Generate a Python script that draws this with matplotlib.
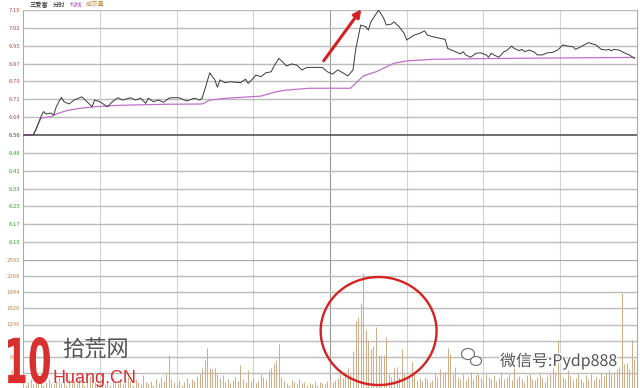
import matplotlib
matplotlib.use("Agg")
import matplotlib.pyplot as plt
from matplotlib.patches import Ellipse, PathPatch
from matplotlib.textpath import TextPath
from matplotlib.font_manager import FontProperties
from matplotlib.transforms import Affine2D
import matplotlib.patheffects as pe

plt.rcParams['font.family'] = ['Noto Sans CJK SC', 'DejaVu Sans']

# ---------------- data ----------------
prev_close = 6.56
price_limit = 7.10

price_points = [
    (0, 6.560), (4, 6.560), (5, 6.582), (7, 6.639), (8, 6.661), (9, 6.651), (11, 6.655), (12, 6.646), (13, 6.682), (15, 6.723),
    (16, 6.704), (18, 6.694), (20, 6.711), (23, 6.725), (25, 6.704), (27, 6.682), (28, 6.711), (30, 6.704), (33, 6.682), (35, 6.704),
    (37, 6.721), (39, 6.711), (42, 6.721), (44, 6.711), (46, 6.719), (48, 6.697), (49, 6.719), (51, 6.704), (53, 6.711), (55, 6.701),
    (57, 6.719), (58, 6.721), (61, 6.721), (64, 6.707), (67, 6.719), (69, 6.711), (70, 6.719), (71, 6.754), (73, 6.829), (74, 6.812),
    (75, 6.798), (76, 6.766), (77, 6.798), (79, 6.786), (81, 6.790), (85, 6.786), (87, 6.801), (88, 6.783), (90, 6.805), (91, 6.819),
    (93, 6.812), (95, 6.829), (97, 6.833), (98, 6.855), (100, 6.891), (102, 6.870), (103, 6.858), (105, 6.867), (107, 6.862), (109, 6.841),
    (111, 6.852), (112, 6.852), (117, 6.852), (119, 6.833), (121, 6.823), (123, 6.841), (125, 6.829), (127, 6.815), (129, 6.841), (130, 6.927),
    (132, 7.035), (134, 7.028), (135, 7.013), (136, 7.049), (139, 7.100), (141, 7.064), (142, 7.035), (144, 7.039), (145, 7.049), (147, 7.028),
    (149, 6.999), (150, 6.970), (151, 6.978), (153, 6.992), (155, 6.999), (157, 7.010), (158, 6.992), (160, 6.985), (163, 6.978), (165, 6.973),
    (166, 6.934), (169, 6.920), (171, 6.910), (172, 6.920), (173, 6.906), (175, 6.896), (177, 6.913), (179, 6.915), (181, 6.906), (182, 6.896),
    (183, 6.913), (184, 6.906), (186, 6.896), (188, 6.920), (189, 6.924), (191, 6.944), (192, 6.934), (194, 6.924), (195, 6.930), (196, 6.920),
    (198, 6.927), (200, 6.917), (201, 6.906), (203, 6.906), (205, 6.915), (207, 6.917), (209, 6.927), (211, 6.949), (213, 6.944), (215, 6.941),
    (216, 6.930), (218, 6.941), (220, 6.953), (221, 6.959), (223, 6.952), (224, 6.949), (226, 6.930), (228, 6.927), (229, 6.930), (230, 6.924),
    (231, 6.930), (233, 6.927), (235, 6.915), (237, 6.906), (239, 6.891),
]

avg_points = [
    (0, 6.560), (4, 6.560), (7, 6.633), (11, 6.639), (13, 6.651), (17, 6.665), (22, 6.675), (28, 6.682), (35, 6.687), (44, 6.690),
    (57, 6.693), (70, 6.694), (73, 6.711), (80, 6.719), (93, 6.728), (99, 6.747), (103, 6.754), (112, 6.762), (128, 6.762), (130, 6.783),
    (133, 6.815), (138, 6.833), (145, 6.870), (150, 6.880), (160, 6.887), (179, 6.890), (210, 6.893), (239, 6.895),
]

volume = [
    180, 90, 140, 200, 110, 160, 230, 120, 90, 150,
    210, 130, 100, 170, 240, 120, 150, 90, 200, 130,
    160, 110, 220, 140, 90, 180, 260, 120, 150, 100,
    140, 200, 110, 170, 90, 230, 150, 120, 180, 100,
    130, 250, 160, 90, 200, 140, 110, 280, 150, 120,
    170, 90, 210, 130, 240, 160, 300, 680, 200, 140,
    110, 180, 90, 150, 230, 120, 200, 160, 260, 300,
    416, 583, 817, 420, 400, 416, 300, 220, 280, 150,
    200, 130, 180, 250, 160, 480, 200, 140, 380, 170,
    220, 130, 160, 300, 250, 200, 380, 420, 510, 583,
    898, 250, 160, 120, 90, 180, 140, 100, 200, 120,
    150, 90, 130, 110, 170, 80, 140, 120, 100, 160,
    200, 140, 180, 230, 300, 220, 350, 420, 300, 770,
    1372, 1452, 1722, 2336, 1185, 984, 800, 864, 1251, 683,
    683, 683, 1039, 300, 250, 416, 442, 250, 797, 300,
    200, 250, 548, 300, 180, 220, 160, 250, 200, 150,
    180, 300, 250, 400, 300, 350, 817, 703, 300, 448,
    250, 200, 300, 180, 250, 350, 200, 280, 300, 220,
    180, 300, 250, 200, 280, 160, 220, 350, 200, 250,
    300, 180, 520, 220, 260, 200, 150, 280, 300, 200,
    180, 250, 300, 220, 150, 260, 300, 420, 350, 984,
    300, 250, 200, 380, 260, 180, 220, 300, 200, 150,
    280, 200, 300, 180, 250, 200, 320, 260, 300, 380,
    300, 350, 400, 450, 1922, 500, 522, 400, 984, 600,
    500,
]
volume_max = 2592
volume_ticks = [2592, 2268, 1944, 1620, 1296, 972, 648, 324]

title_parts = [("三爱富", "#222222"), ("分时", "#222222"), ("均线", "#b040c0"), ("成交量", "#c08a40")]

# ---------------- layout ----------------
W, H = 640, 388
fig = plt.figure(figsize=(W / 100, H / 100), dpi=100)
fig.patch.set_facecolor("white")

x0, x1 = 23, 637
ax_p = fig.add_axes([x0 / W, 1 - 260 / H, (x1 - x0) / W, 250 / H])
ax_v = fig.add_axes([x0 / W, 1 - 389 / H, (x1 - x0) / W, 129 / H])

step = (price_limit - prev_close) / 7
price_ticks = [prev_close + k * step for k in range(-7, 8)]

for ax in (ax_p, ax_v):
    ax.set_xlim(0, 240)
    ax.set_facecolor("none")
    for s in ("top", "bottom"):
        ax.spines[s].set_visible(False)
    for s in ("left", "right"):
        ax.spines[s].set_color("#aaaaaa")
        ax.spines[s].set_linewidth(0.8)
    ax.set_xticks([])
    ax.tick_params(axis="y", length=0, pad=2, labelsize=4.3)
    for m in range(30, 240, 30):
        ax.axvline(m, color="#999999" if m == 120 else "#d2d2d2", lw=0.8, zorder=1)

ax_p.set_ylim(prev_close - 7 * step, price_limit)
ax_v.set_ylim(0, volume_max)

# price grid
for t in price_ticks:
    if abs(t - prev_close) < 1e-9:
        ax_p.axhline(t, color="#555555", lw=1.2, zorder=2)
    elif t > prev_close - 7 * step + 1e-9:
        ax_p.axhline(t, color="#bcbcbc", lw=1.0, zorder=1)
ax_p.set_yticks(price_ticks[1:])
ax_p.set_yticklabels(["%.2f" % t for t in price_ticks[1:]])
for lab, t in zip(ax_p.get_yticklabels(), price_ticks[1:]):
    if abs(t - prev_close) < 1e-9:
        lab.set_color("#444444")
    elif t > prev_close:
        lab.set_color("#b24a4a")
    else:
        lab.set_color("#3a9a3a")

# volume grid
ax_v.axhline(volume_max, color="#a8a8a8", lw=1.6, zorder=2)
for t in volume_ticks[1:]:
    ax_v.axhline(t, color="#bcbcbc", lw=1.0, zorder=1)
ax_v.set_yticks(volume_ticks)
ax_v.set_yticklabels([str(v) for v in volume_ticks])
for lab in ax_v.get_yticklabels():
    lab.set_color("#c08a50")

# series
pm = [p[0] for p in price_points]
pv = [p[1] for p in price_points]
am = [p[0] for p in avg_points]
av = [p[1] for p in avg_points]
ax_p.plot(am, av, color="#c070cc", lw=0.9, zorder=3)
ax_p.plot(pm, pv, color="#3a3a3a", lw=0.7, zorder=4)

ax_v.vlines(range(len(volume)), 0, volume, color="#cdb08a", lw=0.75, zorder=3)

# annotations
ax_p.annotate("", xy=(132.9, 7.113), xytext=(116.9, 6.871),
              arrowprops=dict(arrowstyle="-|>", color="#d42222", lw=2.2, mutation_scale=11),
              annotation_clip=False, zorder=6)
ax_v.add_patch(Ellipse((139, 1165), 45.3, 2170, fill=False, edgecolor="#d42222",
                       lw=1.7, clip_on=False, zorder=6))

# title
xs = 30
for txt, col in title_parts:
    fig.text(xs / W, 1 - 5 / H, txt, fontsize=4.5, color=col, va="center", ha="left")
    xs += len(txt) * 6.3 + 4

# watermark: logo
tp = TextPath((0, 0), "10", size=1, prop=FontProperties(family="DejaVu Sans", weight="bold"))
ext = tp.get_extents()
sx = 42 / ext.width
sy = 47 / ext.height
tr = Affine2D().translate(-ext.x0, -ext.y0).scale(sx / W, sy / H).translate(8 / W, 4 / H) + fig.transFigure
fig.patches.append(PathPatch(tp, transform=tr, facecolor="#d8302f", edgecolor="none", zorder=10))
fig.text(62 / W, 1 - 357 / H, "拾荒网", fontsize=16, color="#555555", ha="left", va="baseline", zorder=10)
fig.text(52 / W, 1 - 383 / H, "Huang.CN", fontsize=13, color="#d8302f", ha="left", va="baseline",
         family=["Liberation Sans", "DejaVu Sans"], zorder=10)

# watermark: wechat
halo = [pe.withStroke(linewidth=2, foreground="white")]
fig.text(500 / W, 1 - 366 / H, "微信号:Pydp888", fontsize=11.5, color="#555555", ha="left",
         va="baseline", path_effects=halo, zorder=10)
fig.patches.append(Ellipse((468 / W, 1 - 354 / H), 13 / W, 11 / H, transform=fig.transFigure,
                           fill=True, facecolor="white", edgecolor="#777777", lw=0.9, zorder=10))
fig.patches.append(Ellipse((476 / W, 1 - 361 / H), 11 / W, 9 / H, transform=fig.transFigure,
                           fill=True, facecolor="white", edgecolor="#777777", lw=0.9, zorder=11))

fig.savefig("out.png", dpi=100, facecolor="white")
